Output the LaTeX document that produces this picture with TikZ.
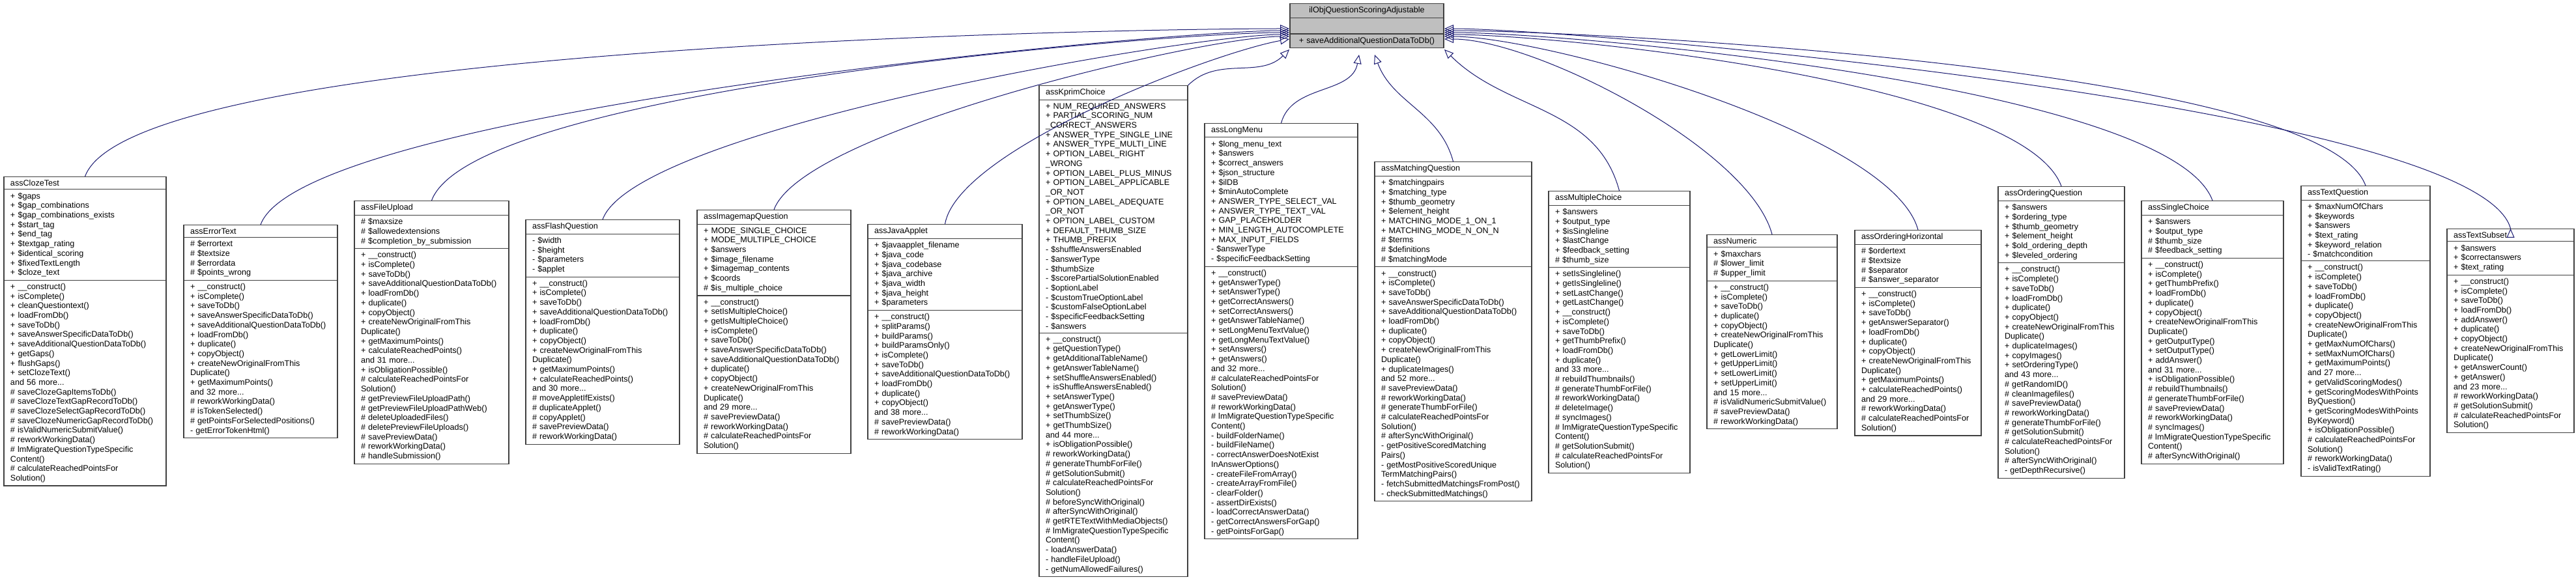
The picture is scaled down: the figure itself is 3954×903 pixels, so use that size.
\documentclass[tikz,border=0pt]{standalone}
\usepackage{fontspec}
\setmainfont{Liberation Sans}
\usetikzlibrary{positioning, shapes.multipart, arrows.meta}
\definecolor{edgeblue}{RGB}{25,25,112}

\begin{document}
\begin{tikzpicture}[x=0.5pt, y=-0.5pt,
    cls/.style={draw=black!75, line width=0.6pt, rectangle split, rectangle split parts=3, anchor=north,
        align=left, inner xsep=5pt, inner ysep=2.2pt, font=\fontsize{6.3}{7.35}\selectfont},
    base/.style={cls, fill=black!25, align=center, text width=108pt},
    inh/.style={draw=edgeblue, line width=0.5pt, -{Triangle[open, length=7pt, width=6pt]}}
    ]
    \useasboundingbox (0,0) rectangle (3954,903);

    % base class
    \node[base] (base) at (2098,5) {ilObjQuestionScoringAdjustable \nodepart{two}\strut \nodepart{three}+ saveAdditionalQuestionDataToDb()};

    % derived classes
    \node[cls, text width=114.5pt] (cloze) at (130.5,271) {\centering assClozeTest
        \nodepart{two}+ \$gaps\\+ \$gap\_combinations\\+ \$gap\_combinations\_exists\\+ \$start\_tag\\+ \$end\_tag\\+ \$textgap\_rating\\+ \$identical\_scoring\\+ \$fixedTextLength\\+ \$cloze\_text
        \nodepart{three}+ \_\_construct()\\+ isComplete()\\+ cleanQuestiontext()\\+ loadFromDb()\\+ saveToDb()\\+ saveAnswerSpecificDataToDb()\\+ saveAdditionalQuestionDataToDb()\\+ getGaps()\\+ flushGaps()\\+ setClozeText()\\and 56 more...\\\# saveClozeGapItemsToDb()\\\# saveClozeTextGapRecordToDb()\\\# saveClozeSelectGapRecordToDb()\\\# saveClozeNumericGapRecordToDb()\\\# isValidNumericSubmitValue()\\\# reworkWorkingData()\\\# lmMigrateQuestionTypeSpecific\\Content()\\\# calculateReachedPointsFor\\Solution()};
    \node[cls, text width=108pt] (error) at (400,345) {\centering assErrorText
        \nodepart{two}\# \$errortext\\\# \$textsize\\\# \$errordata\\\# \$points\_wrong
        \nodepart{three}+ \_\_construct()\\+ isComplete()\\+ saveToDb()\\+ saveAnswerSpecificDataToDb()\\+ saveAdditionalQuestionDataToDb()\\+ loadFromDb()\\+ duplicate()\\+ copyObject()\\+ createNewOriginalFromThis\\Duplicate()\\+ getMaximumPoints()\\and 32 more...\\\# reworkWorkingData()\\\# isTokenSelected()\\\# getPointsForSelectedPositions()\\- getErrorTokenHtml()};
    \node[cls, text width=108.5pt] (upload) at (662.5,308) {\centering assFileUpload
        \nodepart{two}\# \$maxsize\\\# \$allowedextensions\\\# \$completion\_by\_submission
        \nodepart{three}+ \_\_construct()\\+ isComplete()\\+ saveToDb()\\+ saveAdditionalQuestionDataToDb()\\+ loadFromDb()\\+ duplicate()\\+ copyObject()\\+ createNewOriginalFromThis\\Duplicate()\\+ getMaximumPoints()\\+ calculateReachedPoints()\\and 31 more...\\+ isObligationPossible()\\\# calculateReachedPointsFor\\Solution()\\\# getPreviewFileUploadPath()\\\# getPreviewFileUploadPathWeb()\\\# deleteUploadedFiles()\\\# deletePreviewFileUploads()\\\# savePreviewData()\\\# reworkWorkingData()\\\# handleSubmission()};
    \node[cls, text width=108pt] (flash) at (925,337) {\centering assFlashQuestion
        \nodepart{two}- \$width\\- \$height\\- \$parameters\\- \$applet
        \nodepart{three}+ \_\_construct()\\+ isComplete()\\+ saveToDb()\\+ saveAdditionalQuestionDataToDb()\\+ loadFromDb()\\+ duplicate()\\+ copyObject()\\+ createNewOriginalFromThis\\Duplicate()\\+ getMaximumPoints()\\+ calculateReachedPoints()\\and 30 more...\\\# moveAppletIfExists()\\\# duplicateApplet()\\\# copyApplet()\\\# savePreviewData()\\\# reworkWorkingData()};
    \node[cls, text width=108pt] (imagemap) at (1188,322) {\centering assImagemapQuestion
        \nodepart{two}+ MODE\_SINGLE\_CHOICE\\+ MODE\_MULTIPLE\_CHOICE\\+ \$answers\\+ \$image\_filename\\+ \$imagemap\_contents\\+ \$coords\\\# \$is\_multiple\_choice
        \nodepart{three}+ \_\_construct()\\+ setIsMultipleChoice()\\+ getIsMultipleChoice()\\+ isComplete()\\+ saveToDb()\\+ saveAnswerSpecificDataToDb()\\+ saveAdditionalQuestionDataToDb()\\+ duplicate()\\+ copyObject()\\+ createNewOriginalFromThis\\Duplicate()\\and 29 more...\\\# savePreviewData()\\\# reworkWorkingData()\\\# calculateReachedPointsFor\\Solution()};
    \node[cls, text width=108.5pt] (java) at (1450.5,344) {\centering assJavaApplet
        \nodepart{two}+ \$javaapplet\_filename\\+ \$java\_code\\+ \$java\_codebase\\+ \$java\_archive\\+ \$java\_width\\+ \$java\_height\\+ \$parameters
        \nodepart{three}+ \_\_construct()\\+ splitParams()\\+ buildParams()\\+ buildParamsOnly()\\+ isComplete()\\+ saveToDb()\\+ saveAdditionalQuestionDataToDb()\\+ loadFromDb()\\+ duplicate()\\+ copyObject()\\and 38 more...\\\# savePreviewData()\\\# reworkWorkingData()};
    \node[cls, text width=104pt] (kprim) at (1709,131) {\centering assKprimChoice
        \nodepart{two}+ NUM\_REQUIRED\_ANSWERS\\+ PARTIAL\_SCORING\_NUM\\\_CORRECT\_ANSWERS\\+ ANSWER\_TYPE\_SINGLE\_LINE\\+ ANSWER\_TYPE\_MULTI\_LINE\\+ OPTION\_LABEL\_RIGHT\\\_WRONG\\+ OPTION\_LABEL\_PLUS\_MINUS\\+ OPTION\_LABEL\_APPLICABLE\\\_OR\_NOT\\+ OPTION\_LABEL\_ADEQUATE\\\_OR\_NOT\\+ OPTION\_LABEL\_CUSTOM\\+ DEFAULT\_THUMB\_SIZE\\+ THUMB\_PREFIX\\- \$shuffleAnswersEnabled\\- \$answerType\\- \$thumbSize\\- \$scorePartialSolutionEnabled\\- \$optionLabel\\- \$customTrueOptionLabel\\- \$customFalseOptionLabel\\- \$specificFeedbackSetting\\- \$answers
        \nodepart{three}+ \_\_construct()\\+ getQuestionType()\\+ getAdditionalTableName()\\+ getAnswerTableName()\\+ setShuffleAnswersEnabled()\\+ isShuffleAnswersEnabled()\\+ setAnswerType()\\+ getAnswerType()\\+ setThumbSize()\\+ getThumbSize()\\and 44 more...\\+ isObligationPossible()\\\# reworkWorkingData()\\\# generateThumbForFile()\\\# getSolutionSubmit()\\\# calculateReachedPointsFor\\Solution()\\\# beforeSyncWithOriginal()\\\# afterSyncWithOriginal()\\\# getRTETextWithMediaObjects()\\\# lmMigrateQuestionTypeSpecific\\Content()\\- loadAnswerData()\\- handleFileUpload()\\- getNumAllowedFailures()};
    \node[cls, text width=107.5pt] (longmenu) at (1966.5,189) {\centering assLongMenu
        \nodepart{two}+ \$long\_menu\_text\\+ \$answers\\+ \$correct\_answers\\+ \$json\_structure\\+ \$ilDB\\+ \$minAutoComplete\\+ ANSWER\_TYPE\_SELECT\_VAL\\+ ANSWER\_TYPE\_TEXT\_VAL\\+ GAP\_PLACEHOLDER\\+ MIN\_LENGTH\_AUTOCOMPLETE\\+ MAX\_INPUT\_FIELDS\\- \$answerType\\- \$specificFeedbackSetting
        \nodepart{three}+ \_\_construct()\\+ getAnswerType()\\+ setAnswerType()\\+ getCorrectAnswers()\\+ setCorrectAnswers()\\+ getAnswerTableName()\\+ setLongMenuTextValue()\\+ getLongMenuTextValue()\\+ setAnswers()\\+ getAnswers()\\and 32 more...\\\# calculateReachedPointsFor\\Solution()\\\# savePreviewData()\\\# reworkWorkingData()\\\# lmMigrateQuestionTypeSpecific\\Content()\\- buildFolderName()\\- buildFileName()\\- correctAnswerDoesNotExist\\InAnswerOptions()\\- createFileFromArray()\\- createArrayFromFile()\\- clearFolder()\\- assertDirExists()\\- loadCorrectAnswerData()\\- getCorrectAnswersForGap()\\- getPointsForGap()};
    \node[cls, text width=110.5pt] (matching) at (2230.5,248) {\centering assMatchingQuestion
        \nodepart{two}+ \$matchingpairs\\+ \$matching\_type\\+ \$thumb\_geometry\\+ \$element\_height\\+ MATCHING\_MODE\_1\_ON\_1\\+ MATCHING\_MODE\_N\_ON\_N\\\# \$terms\\\# \$definitions\\\# \$matchingMode
        \nodepart{three}+ \_\_construct()\\+ isComplete()\\+ saveToDb()\\+ saveAnswerSpecificDataToDb()\\+ saveAdditionalQuestionDataToDb()\\+ loadFromDb()\\+ duplicate()\\+ copyObject()\\+ createNewOriginalFromThis\\Duplicate()\\+ duplicateImages()\\and 52 more...\\\# savePreviewData()\\\# reworkWorkingData()\\\# generateThumbForFile()\\\# calculateReachedPointsFor\\Solution()\\\# afterSyncWithOriginal()\\- getPositiveScoredMatching\\Pairs()\\- getMostPositiveScoredUnique\\TermMatchingPairs()\\- fetchSubmittedMatchingsFromPost()\\- checkSubmittedMatchings()};
    \node[cls, text width=98.5pt] (multi) at (2485.5,293) {\centering assMultipleChoice
        \nodepart{two}+ \$answers\\+ \$output\_type\\+ \$isSingleline\\+ \$lastChange\\+ \$feedback\_setting\\\# \$thumb\_size
        \nodepart{three}+ setIsSingleline()\\+ getIsSingleline()\\+ setLastChange()\\+ getLastChange()\\+ \_\_construct()\\+ isComplete()\\+ saveToDb()\\+ getThumbPrefix()\\+ loadFromDb()\\+ duplicate()\\and 33 more...\\\# rebuildThumbnails()\\\# generateThumbForFile()\\\# reworkWorkingData()\\\# deleteImage()\\\# syncImages()\\\# lmMigrateQuestionTypeSpecific\\Content()\\\# getSolutionSubmit()\\\# calculateReachedPointsFor\\Solution()};
    \node[cls, text width=90pt] (numeric) at (2720,360) {\centering assNumeric
        \nodepart{two}+ \$maxchars\\\# \$lower\_limit\\\# \$upper\_limit
        \nodepart{three}+ \_\_construct()\\+ isComplete()\\+ saveToDb()\\+ duplicate()\\+ copyObject()\\+ createNewOriginalFromThis\\Duplicate()\\+ getLowerLimit()\\+ getUpperLimit()\\+ setLowerLimit()\\+ setUpperLimit()\\and 15 more...\\\# isValidNumericSubmitValue()\\\# savePreviewData()\\\# reworkWorkingData()};
    \node[cls, text width=87pt] (orderh) at (2944,353) {\centering assOrderingHorizontal
        \nodepart{two}\# \$ordertext\\\# \$textsize\\\# \$separator\\\# \$answer\_separator
        \nodepart{three}+ \_\_construct()\\+ isComplete()\\+ saveToDb()\\+ getAnswerSeparator()\\+ loadFromDb()\\+ duplicate()\\+ copyObject()\\+ createNewOriginalFromThis\\Duplicate()\\+ getMaximumPoints()\\+ calculateReachedPoints()\\and 29 more...\\\# reworkWorkingData()\\\# calculateReachedPointsFor\\Solution()};
    \node[cls, text width=87pt] (orderq) at (3164,286) {\centering assOrderingQuestion
        \nodepart{two}+ \$answers\\+ \$ordering\_type\\+ \$thumb\_geometry\\+ \$element\_height\\+ \$old\_ordering\_depth\\+ \$leveled\_ordering
        \nodepart{three}+ \_\_construct()\\+ isComplete()\\+ saveToDb()\\+ loadFromDb()\\+ duplicate()\\+ copyObject()\\+ createNewOriginalFromThis\\Duplicate()\\+ duplicateImages()\\+ copyImages()\\+ setOrderingType()\\and 43 more...\\\# getRandomID()\\\# cleanImagefiles()\\\# savePreviewData()\\\# reworkWorkingData()\\\# generateThumbForFile()\\\# getSolutionSubmit()\\\# calculateReachedPointsFor\\Solution()\\\# afterSyncWithOriginal()\\- getDepthRecursive()};
    \node[cls, text width=99pt] (single) at (3396,308) {\centering assSingleChoice
        \nodepart{two}+ \$answers\\+ \$output\_type\\\# \$thumb\_size\\\# \$feedback\_setting
        \nodepart{three}+ \_\_construct()\\+ isComplete()\\+ getThumbPrefix()\\+ loadFromDb()\\+ duplicate()\\+ copyObject()\\+ createNewOriginalFromThis\\Duplicate()\\+ getOutputType()\\+ setOutputType()\\+ addAnswer()\\and 31 more...\\+ isObligationPossible()\\\# rebuildThumbnails()\\\# generateThumbForFile()\\\# savePreviewData()\\\# reworkWorkingData()\\\# syncImages()\\\# lmMigrateQuestionTypeSpecific\\Content()\\\# afterSyncWithOriginal()};
    \node[cls, text width=89pt] (textq) at (3631,285) {\centering assTextQuestion
        \nodepart{two}+ \$maxNumOfChars\\+ \$keywords\\+ \$answers\\+ \$text\_rating\\+ \$keyword\_relation\\- \$matchcondition
        \nodepart{three}+ \_\_construct()\\+ isComplete()\\+ saveToDb()\\+ loadFromDb()\\+ duplicate()\\+ copyObject()\\+ createNewOriginalFromThis\\Duplicate()\\+ getMaxNumOfChars()\\+ setMaxNumOfChars()\\+ getMaximumPoints()\\and 27 more...\\+ getValidScoringModes()\\+ getScoringModesWithPoints\\ByQuestion()\\+ getScoringModesWithPoints\\ByKeyword()\\+ isObligationPossible()\\\# calculateReachedPointsFor\\Solution()\\\# reworkWorkingData()\\- isValidTextRating()};
    \node[cls, text width=87.5pt] (subset) at (3853.5,351) {\centering assTextSubset
        \nodepart{two}+ \$answers\\+ \$correctanswers\\+ \$text\_rating
        \nodepart{three}+ \_\_construct()\\+ isComplete()\\+ saveToDb()\\+ loadFromDb()\\+ addAnswer()\\+ duplicate()\\+ copyObject()\\+ createNewOriginalFromThis\\Duplicate()\\+ getAnswerCount()\\+ getAnswer()\\and 23 more...\\\# reworkWorkingData()\\\# getSolutionSubmit()\\\# calculateReachedPointsFor\\Solution()};

    % arrow tips on the base class
    \coordinate (l1) at (1979,44);
    \coordinate (l2) at (1979,47);
    \coordinate (l3) at (1979,50);
    \coordinate (l4) at (1979,53);
    \coordinate (l5) at (1979,56);
    \coordinate (l6) at (1979,60);
    \coordinate (bl) at (1979,76);
    \coordinate (b1) at (2086,84);
    \coordinate (b2) at (2110,84);
    \coordinate (br) at (2217,76);
    \coordinate (r1) at (2217,44);
    \coordinate (r2) at (2217,47);
    \coordinate (r3) at (2217,50);
    \coordinate (r4) at (2217,53);
    \coordinate (r5) at (2217,56);
    \coordinate (r6) at (2217,60);

    \path[inh]
    (cloze.north)    edge [out=70, in=180, looseness=0.3]  (l1)
    (error.north)    edge [out=70, in=180, looseness=0.3]  (l2)
    (upload.north)   edge [out=70, in=180, looseness=0.35] (l3)
    (flash.north)    edge [out=70, in=180, looseness=0.35] (l4)
    (imagemap.north) edge [out=70, in=180, looseness=0.4]  (l5)
    (java.north)     edge [out=80, in=190, looseness=0.5]  (l6)
    (kprim.north east) edge [out=45, in=225]               (bl)
    (longmenu.north) edge [out=75, in=260]                 (b1)
    (matching.north) edge [out=105, in=290]                (b2)
    (multi.north)    edge [out=105, in=315]                (br)
    (numeric.north)  edge [out=105, in=0, looseness=0.6]   (r6)
    (orderh.north)   edge [out=105, in=0, looseness=0.5]   (r5)
    (orderq.north)   edge [out=110, in=0, looseness=0.45]  (r4)
    (single.north)   edge [out=110, in=0, looseness=0.4]   (r3)
    (textq.north)    edge [out=110, in=0, looseness=0.35]  (r2)
    (subset.north)   edge [out=105, in=0, looseness=0.3]   (r1);
\end{tikzpicture}
\end{document}
